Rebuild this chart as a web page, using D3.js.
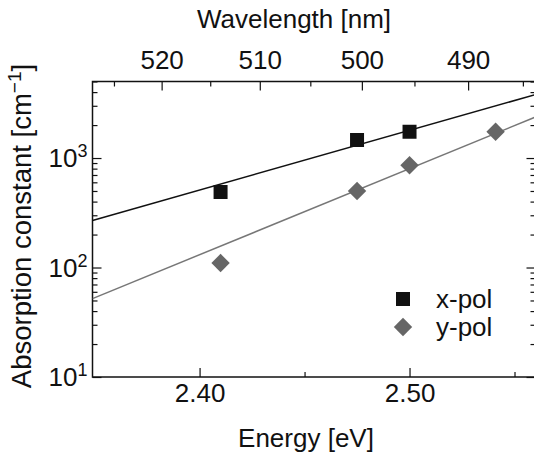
<!DOCTYPE html>
<html>
<head>
<meta charset="utf-8">
<script src="https://cdn.jsdelivr.net/npm/d3@7"></script>
<style>
  body { margin: 0; background: #fff; }
  svg text { font-family: "Liberation Sans", Arial, Helvetica, sans-serif; fill: #111; }
</style>
</head>
<body>
<div id="chart"></div>
<script>
// data
var xpolEnergy = [2.41, 2.475, 2.50];
var xpolAbs = [490, 1460, 1740];
var ypolEnergy = [2.41, 2.475, 2.50, 2.541];
var ypolAbs = [110, 500, 860, 1740];

// exponential fits, given at the two edges of the plot
var fitEnergy = [2.349, 2.56];
var xpolFit = [269, 3800];
var ypolFit = [52, 2370];

var energyMajor = [2.40, 2.50];
var energyMinor = [2.45, 2.55];
var waveMajor = [520, 510, 500, 490];
var waveMinor = [525, 515, 505, 495, 485];
var absMajor = [10, 100, 1000];
var absMinor = [20, 30, 40, 50, 60, 70, 80, 90, 200, 300, 400, 500, 600, 700, 800, 900, 2000, 3000, 4000, 5000];

var hc = 1239.84; // eV nm

var W = 534, H = 458;
// plot box (note: "top" is taken by window.top, so p-prefixed names)
// right edge of the frame falls just outside the picture, like the original
var pLeft = 92.5, pRight = 535.5, pTop = 81.5, pBottom = 377;

var svg = d3.select("#chart").append("svg")
	.attr("width", W)
	.attr("height", H);

var x = d3.scaleLinear().domain([2.349, 2.56]).range([pLeft, pRight]);
// top axis sits a few px left in the original figure
var xTop = x.copy().range(x.range().map(function(v) { return v - 5; }));
var y = d3.scaleLog().domain([10, 5000]).range([pBottom, pTop]);

var defs = svg.append("defs");
defs.append("clipPath").attr("id", "plotclip")
	.append("rect")
	.attr("x", pLeft).attr("y", pTop)
	.attr("width", pRight - pLeft).attr("height", pBottom - pTop);

// ---- axes (ticks point inward) ----
var axes = svg.append("g");

// bottom
var bAxis = axes.append("g").attr("transform", "translate(0," + pBottom + ")")
	.call(d3.axisBottom(x).tickValues(energyMajor).tickSize(-9).tickFormat(d3.format(".2f")));
bAxis.selectAll("text").attr("y", 25).attr("dy", 0).style("font-size", "26px");
axes.append("g").attr("transform", "translate(0," + pBottom + ")")
	.call(d3.axisBottom(x).tickValues(energyMinor).tickSize(-5).tickFormat(""));

// top (wavelength)
var tAxis = axes.append("g").attr("transform", "translate(0," + pTop + ")")
	.call(d3.axisTop(xTop).tickValues(waveMajor.map(function(l) { return hc / l; }))
		.tickSize(-9)
		.tickFormat(function(e) { return Math.round(hc / e); }));
tAxis.selectAll("text").attr("y", -13).attr("dy", 0).style("font-size", "26px");
axes.append("g").attr("transform", "translate(0," + pTop + ")")
	.call(d3.axisTop(xTop).tickValues(waveMinor.map(function(l) { return hc / l; })).tickSize(-5).tickFormat(""));

// left
axes.append("g").attr("transform", "translate(" + pLeft + ",0)")
	.call(d3.axisLeft(y).tickValues(absMajor).tickSize(-9).tickFormat(""));
axes.append("g").attr("transform", "translate(" + pLeft + ",0)")
	.call(d3.axisLeft(y).tickValues(absMinor).tickSize(-5).tickFormat(""));

// right
axes.append("g").attr("transform", "translate(" + pRight + ",0)")
	.call(d3.axisRight(y).tickValues(absMajor).tickSize(-9).tickFormat(""));
axes.append("g").attr("transform", "translate(" + pRight + ",0)")
	.call(d3.axisRight(y).tickValues(absMinor).tickSize(-5).tickFormat(""));

axes.selectAll(".domain").remove();
axes.selectAll(".tick line").attr("stroke", "#111").attr("stroke-width", 1.2);

// frame
svg.append("rect")
	.attr("x", pLeft).attr("y", pTop)
	.attr("width", pRight - pLeft).attr("height", pBottom - pTop)
	.attr("fill", "none")
	.attr("stroke", "#111")
	.attr("stroke-width", 1.5);

// y tick labels 10^n
var yl = svg.append("g").selectAll("text")
	.data(absMajor)
	.enter().append("text")
	.attr("x", pLeft - 5)
	.attr("y", function(d) { return y(d) + 9; })
	.attr("text-anchor", "end")
	.style("font-size", "26px");
yl.append("tspan").text("10");
yl.append("tspan")
	.attr("dy", -10)
	.style("font-size", "18px")
	.text(function(d) { return Math.round(Math.log10(d)); });

// ---- fit lines ----
var plot = svg.append("g").attr("clip-path", "url(#plotclip)");

var fitLine = d3.line()
	.x(function(d) { return x(d[0]); })
	.y(function(d) { return y(d[1]); });

plot.append("path")
	.datum(d3.zip(fitEnergy, xpolFit))
	.attr("d", fitLine)
	.attr("fill", "none")
	.attr("stroke", "#111")
	.attr("stroke-width", 1.5);

plot.append("path")
	.datum(d3.zip(fitEnergy, ypolFit))
	.attr("d", fitLine)
	.attr("fill", "none")
	.attr("stroke", "#777")
	.attr("stroke-width", 1.5);

// ---- markers ----
var sq = d3.symbol().type(d3.symbolSquare).size(14 * 14);
var dia = d3.symbol().type(d3.symbolSquare).size(13 * 13);

plot.selectAll(".xpol")
	.data(d3.zip(xpolEnergy, xpolAbs))
	.enter().append("path")
	.attr("class", "xpol")
	.attr("d", sq)
	.attr("transform", function(d) { return "translate(" + x(d[0]) + "," + y(d[1]) + ")"; })
	.attr("fill", "#111");

plot.selectAll(".ypol")
	.data(d3.zip(ypolEnergy, ypolAbs))
	.enter().append("path")
	.attr("class", "ypol")
	.attr("d", dia)
	.attr("transform", function(d) { return "translate(" + x(d[0]) + "," + y(d[1]) + ") rotate(45)"; })
	.attr("fill", "#666");

// ---- legend ----
var legend = svg.append("g");
legend.append("path").attr("d", sq).attr("transform", "translate(403,299)").attr("fill", "#111");
legend.append("path").attr("d", dia).attr("transform", "translate(403,327) rotate(45)").attr("fill", "#666");
legend.append("text").attr("x", 436).attr("y", 308).style("font-size", "26px").text("x-pol");
legend.append("text").attr("x", 436).attr("y", 336).style("font-size", "26px").text("y-pol");

// ---- titles ----
svg.append("text")
	.attr("x", 306).attr("y", 447)
	.attr("text-anchor", "middle")
	.style("font-size", "26px")
	.text("Energy [eV]");

svg.append("text")
	.attr("x", 294).attr("y", 28)
	.attr("text-anchor", "middle")
	.style("font-size", "26px")
	.text("Wavelength [nm]");

var yt = svg.append("text")
	.attr("transform", "translate(31,226) rotate(-90)")
	.attr("text-anchor", "middle")
	.style("font-size", "27.5px");
yt.append("tspan").text("Absorption constant [cm");
yt.append("tspan").attr("dy", -10).style("font-size", "19px").text("\u22121");
yt.append("tspan").attr("dy", 10).text("]");
</script>
</body>
</html>
